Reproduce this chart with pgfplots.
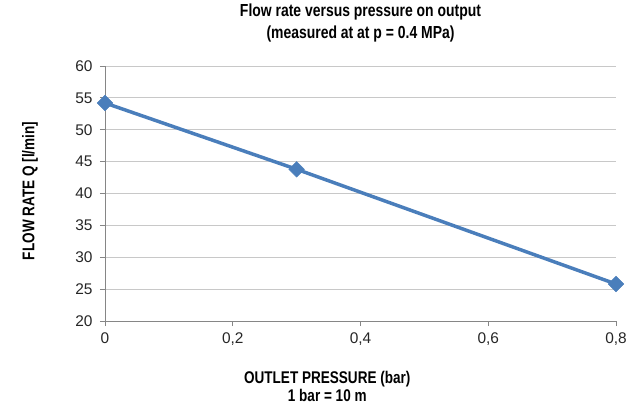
\documentclass[border=0pt]{standalone}
\usepackage{fontspec}
\setmainfont{Liberation Sans}
\newfontfamily\narrowfont[FakeStretch=0.8]{Liberation Sans}
\usepackage{pgfplots}
\pgfplotsset{compat=1.18}
\definecolor{lineblue}{HTML}{4A7EBB}
\definecolor{gridgray}{HTML}{C8C8C8}
\definecolor{axisgray}{HTML}{868686}
\begin{document}
\begin{tikzpicture}
\path[use as bounding box] (-105bp,-84bp) rectangle (537bp,321bp);
\begin{axis}[
    at={(0,0)}, anchor=south west,
    scale only axis,
    width=511bp, height=255bp,
    xmin=0, xmax=0.8, ymin=20, ymax=60,
    xtick={0,0.2,0.4,0.6,0.8},
    ytick={20,25,...,60},
    axis x line*=bottom, axis y line*=left,
    axis line style={axisgray, -},
    ymajorgrids, grid style={gridgray, line width=0.8pt},
    tick style={axisgray, line width=0.8pt},
    tick align=outside, major tick length=5bp,
    x tick label style={/pgf/number format/use comma, /pgf/number format/fixed, /pgf/number format/precision=1},
    /pgf/number format/assume math mode=true,
    tick label style={font=\fontsize{15.5}{17}\selectfont, text=black!85},
    xticklabel style={yshift=-3bp},
    yticklabel style={xshift=-4bp},
    title style={align=center, font=\narrowfont\bfseries\fontsize{17.5}{22}\selectfont,
        at={(axis description cs:0.5,1.145)}, anchor=center},
    title={Flow rate versus pressure on output\\(measured at at p = 0.4 MPa)},
    xlabel style={align=center, font=\narrowfont\bfseries\fontsize{17}{18}\selectfont,
        at={(axis description cs:0.435,-0.255)}, anchor=center},
    xlabel={OUTLET PRESSURE (bar)\\1 bar = 10 m},
    ylabel style={font=\narrowfont\bfseries\fontsize{17}{18}\selectfont,
        at={(axis description cs:-0.147,0.51)}, anchor=center, rotate=0},
    ylabel={FLOW RATE Q [l/min]},
    clip=false,
]
\addplot[lineblue, line width=3.5pt, mark=square*, mark size=5.5bp,
    mark options={fill=lineblue, line width=0.5pt, rotate=45}] coordinates {
    (0,54.2) (0.3,43.8) (0.8,25.8)
};
\end{axis}
\end{tikzpicture}
\end{document}
